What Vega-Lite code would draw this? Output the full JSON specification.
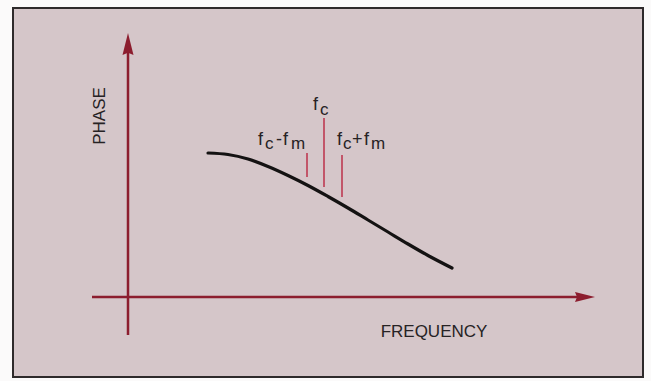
{
  "$schema": "https://vega.github.io/schema/vega-lite/v6.json",
  "width": 651,
  "height": 381,
  "autosize": {"type": "fit", "contains": "padding"},
  "padding": 0,
  "background": "#fbfafa",
  "config": {"view": {"stroke": null}, "axis": {"disable": true}},
  "datasets": {
    "frame": [{"x": -11.5, "x2": 51.5, "y": 28.9, "y2": -8.0}],
    "axes": [
      {"axis": "phase", "x": 0, "x2": 0, "y": -3.8, "y2": 24.5},
      {"axis": "frequency", "x": -3.6, "x2": 45, "y": 0, "y2": 0}
    ],
    "heads": [
      {"axis": "phase", "x": 0, "y": 25.3},
      {"axis": "frequency", "x": 45.7, "y": 0}
    ],
    "curve": [
      {"f": 8.0, "p": 14.4},
      {"f": 10.0, "p": 14.25},
      {"f": 12.0, "p": 13.8},
      {"f": 14.0, "p": 13.05},
      {"f": 16.0, "p": 12.15},
      {"f": 18.0, "p": 11.15},
      {"f": 20.0, "p": 10.05},
      {"f": 22.0, "p": 8.9},
      {"f": 24.0, "p": 7.7},
      {"f": 26.0, "p": 6.5},
      {"f": 28.0, "p": 5.3},
      {"f": 30.0, "p": 4.15},
      {"f": 32.4, "p": 2.9}
    ],
    "marks": [
      {"name": "fc-fm", "f": 17.9, "p": 14.4, "p2": 12.0},
      {"name": "fc", "f": 19.6, "p": 17.9, "p2": 11.0},
      {"name": "fc+fm", "f": 21.4, "p": 14.2, "p2": 10.0}
    ],
    "labels": [
      {"t": "f", "f": 18.5, "p": 18.7},
      {"t": "f", "f": 13.0, "p": 15.2},
      {"t": "-", "f": 14.8, "p": 15.2},
      {"t": "f", "f": 15.5, "p": 15.2},
      {"t": "f", "f": 20.9, "p": 15.2},
      {"t": "+", "f": 22.4, "p": 15.2},
      {"t": "f", "f": 23.6, "p": 15.2}
    ],
    "subs": [
      {"t": "c", "f": 19.2, "p": 18.2},
      {"t": "c", "f": 13.7, "p": 14.8},
      {"t": "m", "f": 16.3, "p": 14.8},
      {"t": "c", "f": 21.5, "p": 14.8},
      {"t": "m", "f": 24.3, "p": 14.8}
    ],
    "titles": [
      {"t": "FREQUENCY", "f": 30.6, "p": -4.0, "angle": 0},
      {"t": "PHASE", "f": -2.3, "p": 18.1, "angle": 270}
    ]
  },
  "layer": [
    {
      "data": {"name": "frame"},
      "mark": {"type": "rect", "fill": "#d5c6c9", "stroke": "#2e2a2b", "strokeWidth": 2},
      "encoding": {
        "x": {"field": "x", "type": "quantitative", "scale": {"domain": [-12.8, 52.3], "nice": false, "zero": false}},
        "x2": {"field": "x2"},
        "y": {"field": "y", "type": "quantitative", "scale": {"domain": [-8.4, 29.7], "nice": false, "zero": false}},
        "y2": {"field": "y2"}
      }
    },
    {
      "data": {"name": "axes"},
      "mark": {"type": "rule", "color": "#8c1d2e", "strokeWidth": 2.5},
      "encoding": {
        "x": {"field": "x", "type": "quantitative"},
        "x2": {"field": "x2"},
        "y": {"field": "y", "type": "quantitative"},
        "y2": {"field": "y2"}
      }
    },
    {
      "data": {"name": "heads"},
      "transform": [{"filter": "datum.axis == 'phase'"}],
      "mark": {"type": "point", "shape": "M0,-1L0.5,1L0,0.8L-0.5,1Z", "filled": true, "color": "#8c1d2e", "opacity": 1, "size": 484},
      "encoding": {
        "x": {"field": "x", "type": "quantitative"},
        "y": {"field": "y", "type": "quantitative"}
      }
    },
    {
      "data": {"name": "heads"},
      "transform": [{"filter": "datum.axis == 'frequency'"}],
      "mark": {"type": "point", "shape": "M1,0L-1,-0.5L-0.8,0L-1,0.5Z", "filled": true, "color": "#8c1d2e", "opacity": 1, "size": 400},
      "encoding": {
        "x": {"field": "x", "type": "quantitative"},
        "y": {"field": "y", "type": "quantitative"}
      }
    },
    {
      "data": {"name": "marks"},
      "mark": {"type": "rule", "color": "#bd3a52", "strokeWidth": 1.6},
      "encoding": {
        "x": {"field": "f", "type": "quantitative"},
        "y": {"field": "p", "type": "quantitative"},
        "y2": {"field": "p2"}
      }
    },
    {
      "data": {"name": "curve"},
      "mark": {"type": "line", "color": "#141212", "strokeWidth": 3.2, "interpolate": "monotone", "strokeCap": "round"},
      "encoding": {
        "x": {"field": "f", "type": "quantitative"},
        "y": {"field": "p", "type": "quantitative"}
      }
    },
    {
      "data": {"name": "labels"},
      "mark": {"type": "text", "align": "left", "baseline": "alphabetic", "font": "Liberation Sans", "fontSize": 18, "color": "#262224"},
      "encoding": {
        "x": {"field": "f", "type": "quantitative"},
        "y": {"field": "p", "type": "quantitative"},
        "text": {"field": "t"}
      }
    },
    {
      "data": {"name": "subs"},
      "mark": {"type": "text", "align": "left", "baseline": "alphabetic", "font": "Liberation Sans", "fontSize": 17, "color": "#262224"},
      "encoding": {
        "x": {"field": "f", "type": "quantitative"},
        "y": {"field": "p", "type": "quantitative"},
        "text": {"field": "t"}
      }
    },
    {
      "data": {"name": "titles"},
      "mark": {"type": "text", "align": "center", "baseline": "alphabetic", "font": "Liberation Sans", "fontSize": 17, "color": "#262224"},
      "encoding": {
        "x": {"field": "f", "type": "quantitative"},
        "y": {"field": "p", "type": "quantitative"},
        "text": {"field": "t"},
        "angle": {"field": "angle", "type": "quantitative", "scale": null}
      }
    }
  ]
}
